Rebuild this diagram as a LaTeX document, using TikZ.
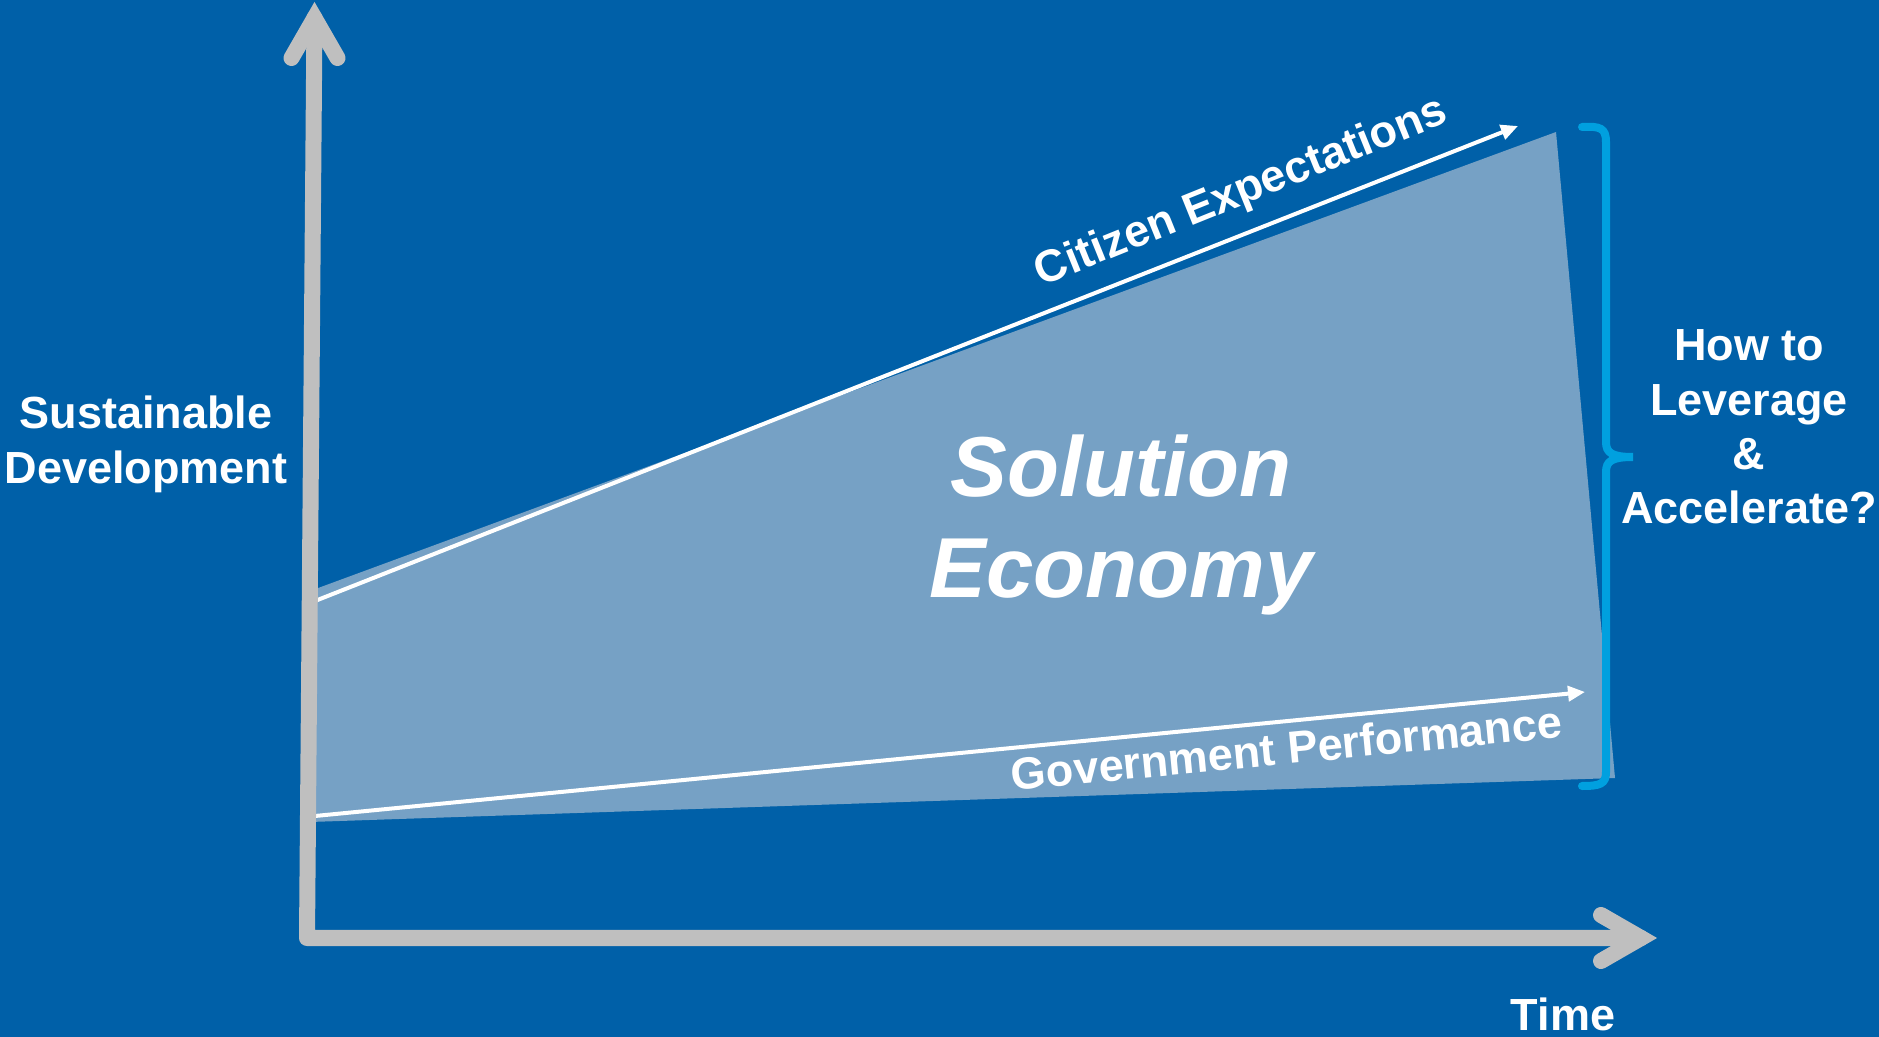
\documentclass[tikz,border=0pt]{standalone}
\usepackage{fontspec}
\setmainfont{Liberation Sans}
\usepackage{xcolor}
\usetikzlibrary{arrows.meta}

\definecolor{bgblue}{RGB}{0,96,168}
\definecolor{axisgray}{RGB}{191,191,191}
\definecolor{wedgeblue}{RGB}{118,161,197}
\definecolor{bracecyan}{RGB}{0,160,223}

\begin{document}
\begin{tikzpicture}[x=0.01cm, y=-0.01cm,
    axisline/.style={draw=axisgray, line width=0.16cm, line cap=round, line join=round},
    axishead/.style={draw=axisgray, line width=0.16cm, line cap=round, line join=miter},
    trend/.style={draw=white, line width=0.04cm, -{Triangle[length=0.17cm, width=0.15cm]}},
    lbl/.style={text=white, inner sep=0pt, align=center, font=\bfseries\fontsize{12.8}{15.6}\selectfont},
    bigtxt/.style={text=white, inner sep=0pt, align=center, font=\bfseries\itshape\fontsize{24.2}{28.45}\selectfont}]
    \useasboundingbox (0,0) rectangle (1879,1037);
    \fill[bgblue] (0,0) rectangle (1879,1037);

    % Solution economy wedge
    \fill[wedgeblue] (310,591) -- (1556,132) -- (1615,778) -- (310,822) -- cycle;

    % Trend lines
    \coordinate (ceStart) at (315,601);
    \coordinate (ceEnd) at (1518,126);
    \coordinate (gpStart) at (315,816);
    \coordinate (gpEnd) at (1585,692);
    \draw[trend] (ceStart) -- (ceEnd);
    \draw[trend] (gpStart) -- (gpEnd);

    % Axes
    \coordinate (O) at (307,938);
    \coordinate (yHead) at (314.5,18);
    \coordinate (xHead) at (1641,938);
    \draw[axisline] (yHead) -- (O) -- (xHead);
    \draw[axishead] (291.5,58) -- (yHead) -- (337.5,58);
    \draw[axishead] (1601,915) -- (xHead) -- (1601,961);

    % Brace
    \draw[bracecyan, line width=0.08cm, line cap=round]
        (1582,127) .. controls (1600,126) and (1606,128) .. (1606,142)
        -- (1606,442) .. controls (1606,453) and (1612,457) .. (1633,457)
        .. controls (1612,457) and (1606,461) .. (1606,472)
        -- (1606,772) .. controls (1606,784) and (1600,786) .. (1582,786);

    % Labels
    \node[lbl] (sustain) at (146,444) {Sustainable\\Development};
    \node[lbl, anchor=base] (time) at (1563,1030) {Time};
    \node[lbl, font=\bfseries\fontsize{12.8}{15.45}\selectfont] (leverage) at (1749,427) {How to\\Leverage\\\&\\Accelerate?};
    \node[bigtxt] (solution) at (1121,525) {Solution\\Economy};
    \node[lbl, anchor=base, rotate=22] (citizen) at (1246,204) {Citizen Expectations};
    \node[lbl, anchor=base, rotate=5.5] (govt) at (1288,764) {Government Performance};
\end{tikzpicture}
\end{document}
